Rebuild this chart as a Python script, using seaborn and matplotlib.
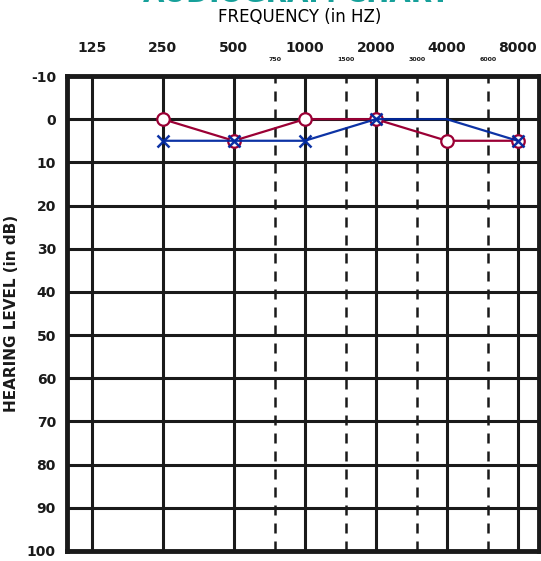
import matplotlib
matplotlib.use("Agg")
import matplotlib.pyplot as plt
import matplotlib.transforms as mtransforms
import seaborn as sns
import pandas as pd

# 測定データ
freqs = [250, 500, 1000, 2000, 4000, 8000]
right_ear = [0, 5, 0, 0, 5, 5]
left_ear = [5, 5, 5, 0, 0, 5]

octave_freqs = [125, 250, 500, 1000, 2000, 4000, 8000]
octave_labels = ["125", "250", "500", "1000", "2000", "4000", "8000"]
mid_freqs = [750, 1500, 3000, 6000]
mid_labels = ["750", "1500", "3000", "6000"]
levels = list(range(-10, 101, 10))

sns.set_style("white")
plt.rcParams['font.family'] = ['DejaVu Sans']

fig = plt.figure(figsize=(5.41, 5.61), dpi=100)
ax = fig.add_axes([67 / 541, 10 / 561, 472 / 541, 475 / 561])

ink = "#1a1a1a"
df_r = pd.DataFrame({"freq": freqs, "level": right_ear})
df_l = pd.DataFrame({"freq": freqs, "level": left_ear})

sns.lineplot(data=df_r, x="freq", y="level", ax=ax, color="#9b0035", lw=1.6,
             marker="o", markersize=9, markerfacecolor="white",
             markeredgecolor="#9b0035", markeredgewidth=1.6, zorder=5)
# 4000Hzの×は元の図で見えないので省く
sns.lineplot(data=df_l, x="freq", y="level", ax=ax, color="#0028a0", lw=1.6,
             marker="x", markersize=9, markeredgewidth=1.8,
             markeredgecolor="#0028a0", markevery=[0, 1, 2, 3, 5],
             alpha=0.95, zorder=6)

ax.set_xscale("log", base=2)
ax.set_xlim(125 * 2 ** -0.35, 125 * 2 ** 6.3)
ax.set_ylim(100, -10)

# グリッド
for y in levels:
    ax.axhline(y, color=ink, lw=2.2, zorder=1)
for f in octave_freqs:
    ax.axvline(f, color=ink, lw=2.2, zorder=1)
for f in mid_freqs:
    ax.axvline(f, color=ink, lw=1.8, ls=(0, (4, 3.2)), zorder=1)

for s in ax.spines.values():
    s.set_color(ink)
    s.set_linewidth(3.5)

ax.xaxis.tick_top()
ax.set_xticks(octave_freqs)
ax.set_xticklabels(octave_labels)
ax.xaxis.set_minor_locator(matplotlib.ticker.NullLocator())
ax.set_yticks(levels)
ax.set_yticklabels([str(v) for v in levels])
ax.tick_params(axis="x", length=0, pad=15, labelsize=10, labelcolor=ink)
ax.tick_params(axis="y", length=0, pad=8, labelsize=10, labelcolor=ink)
for t in ax.get_xticklabels() + ax.get_yticklabels():
    t.set_fontweight("bold")

trans = mtransforms.blended_transform_factory(ax.transData, ax.transAxes)
for f, lab in zip(mid_freqs, mid_labels):
    ax.text(f, 1.035, lab, transform=trans, ha="center", va="center",
            fontsize=4.5, fontweight="bold", color=ink)

ax.set_xlabel("")
ax.set_ylabel("HEARING LEVEL (in dB)", fontsize=11, fontweight="bold",
              color=ink, labelpad=6)
fig.text(300 / 541, 1 - 17 / 561, "FREQUENCY (in HZ)", ha="center",
         va="center", fontsize=12, color="black")
# 上端で切れている見出し
fig.text(296 / 541, 1 - 2.5 / 561, "AUDIOGRAM CHART", ha="center",
         va="baseline", fontsize=20, fontweight="bold", color="#16a09a")

fig.savefig("out.png", dpi=100)
